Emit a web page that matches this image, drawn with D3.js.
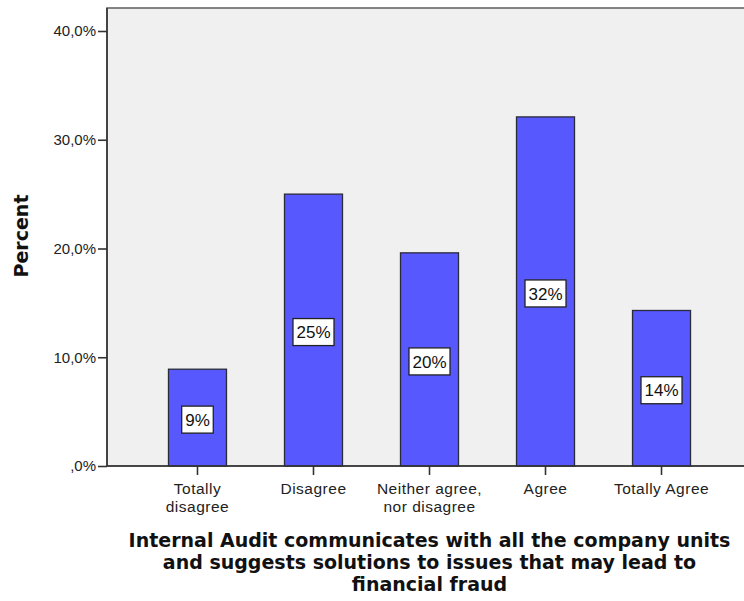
<!DOCTYPE html>
<html>
<head>
<meta charset="utf-8">
<script src="https://cdn.jsdelivr.net/npm/d3@7"></script>
<style>
  html, body { margin: 0; padding: 0; background: #ffffff; }
  svg { display: block; }
</style>
</head>
<body>
<svg id="chart" width="744" height="601"></svg>
<script>
// Response categories (x axis)
const categories = [
  ["Totally", "disagree"],
  ["Disagree"],
  ["Neither agree,", "nor disagree"],
  ["Agree"],
  ["Totally Agree"]
];
// Share of respondents per category, in percent
const percents = [8.9, 25.0, 19.6, 32.1, 14.3];
// Y axis ticks and their labels
const yTicks = [0, 10, 20, 30, 40];
const yTickLabels = [",0%", "10,0%", "20,0%", "30,0%", "40,0%"];
const yTitle = "Percent";
const xTitleLines = [
  "Internal Audit communicates with all the company units",
  "and suggests solutions to issues that may lead to",
  "financial fraud"
];

const svg = d3.select("#chart");
const plot = { left: 107, top: 8, right: 752, bottom: 466 };

const keys = categories.map(c => c.join(" "));
const x = d3.scaleBand()
  .domain(keys)
  .range([plot.left, plot.right])
  .paddingInner(0.5)
  .paddingOuter(0.53);

const y = d3.scaleLinear()
  .domain([0, 40])
  .range([plot.bottom, 31]);

// Plot background and frame
svg.append("rect")
  .attr("x", plot.left)
  .attr("y", plot.top)
  .attr("width", plot.right - plot.left + 20)
  .attr("height", plot.bottom - plot.top)
  .attr("fill", "#f0f0f0")
  .attr("stroke", "#666")
  .attr("stroke-width", 1.6);

// Bars
svg.append("g").selectAll("rect")
  .data(percents)
  .join("rect")
  .attr("x", (d, i) => x(keys[i]))
  .attr("y", d => y(d))
  .attr("width", x.bandwidth())
  .attr("height", d => y(0) - y(d))
  .attr("fill", "#5858ff")
  .attr("stroke", "#2a2a3a")
  .attr("stroke-width", 1.3);

// Y axis
const yAxis = svg.append("g")
  .attr("transform", `translate(${plot.left},0)`)
  .call(d3.axisLeft(y)
    .tickValues(yTicks)
    .tickFormat((d, i) => yTickLabels[i])
    .tickSize(9)
    .tickPadding(2));
yAxis.select(".domain")
  .attr("d", `M0,${plot.top}V${plot.bottom}`)
  .attr("stroke", "#444")
  .attr("stroke-width", 2);
yAxis.selectAll(".tick line").attr("stroke", "#333").attr("stroke-width", 1.6);
yAxis.selectAll(".tick text")
  .attr("font-family", "'Liberation Sans', Arial, sans-serif")
  .attr("font-size", 15)
  .attr("fill", "#222");

// X axis
const xAxis = svg.append("g")
  .attr("transform", `translate(0,${plot.bottom})`)
  .call(d3.axisBottom(x).tickSize(9).tickFormat(""));
xAxis.select(".domain")
  .attr("d", `M${plot.left},0H${plot.right + 20}`)
  .attr("stroke", "#333")
  .attr("stroke-width", 1.6);
xAxis.selectAll(".tick line").attr("stroke", "#333").attr("stroke-width", 1.6);
xAxis.selectAll(".tick").each(function(d, i) {
  const tick = d3.select(this);
  categories[i].forEach((line, j) => {
    tick.append("text")
      .attr("fill", "#222")
      .attr("text-anchor", "middle")
      .attr("font-family", "'Liberation Sans', Arial, sans-serif")
      .attr("font-size", 15.5)
      .attr("letter-spacing", 0.5)
      .attr("x", 0)
      .attr("y", 28 + j * 17.5)
      .text(line);
  });
});

// Value labels in boxes at the middle of each bar
const labels = svg.append("g").selectAll("g")
  .data(percents)
  .join("g")
  .attr("transform", (d, i) =>
    `translate(${x(keys[i]) + x.bandwidth() / 2},${(y(0) + y(d)) / 2 + 2})`);
labels.each(function(d) {
  const g = d3.select(this);
  const txt = g.append("text")
    .attr("text-anchor", "middle")
    .attr("dy", "0.36em")
    .attr("font-family", "'Liberation Sans', Arial, sans-serif")
    .attr("font-size", 17)
    .attr("fill", "#111")
    .text(Math.round(d) + "%");
  const w = txt.node().getComputedTextLength() + 7;
  g.insert("rect", "text")
    .attr("x", -w / 2)
    .attr("y", -13.5)
    .attr("width", w)
    .attr("height", 27)
    .attr("fill", "#ffffff")
    .attr("stroke", "#222")
    .attr("stroke-width", 1.3);
});

// Axis titles
svg.append("text")
  .attr("transform", "translate(28,236) rotate(-90)")
  .attr("text-anchor", "middle")
  .attr("font-family", "'DejaVu Sans', sans-serif")
  .attr("font-weight", "bold")
  .attr("font-size", 19)
  .attr("fill", "#111")
  .text(yTitle);

xTitleLines.forEach((line, i) => {
  svg.append("text")
    .attr("text-anchor", "middle")
    .attr("font-family", "'DejaVu Sans', sans-serif")
    .attr("font-weight", "bold")
    .attr("font-size", 19)
    .attr("fill", "#111")
    .attr("x", (plot.left + plot.right) / 2)
    .attr("y", 547 + i * 22.2)
    .text(line);
});
</script>
</body>
</html>
